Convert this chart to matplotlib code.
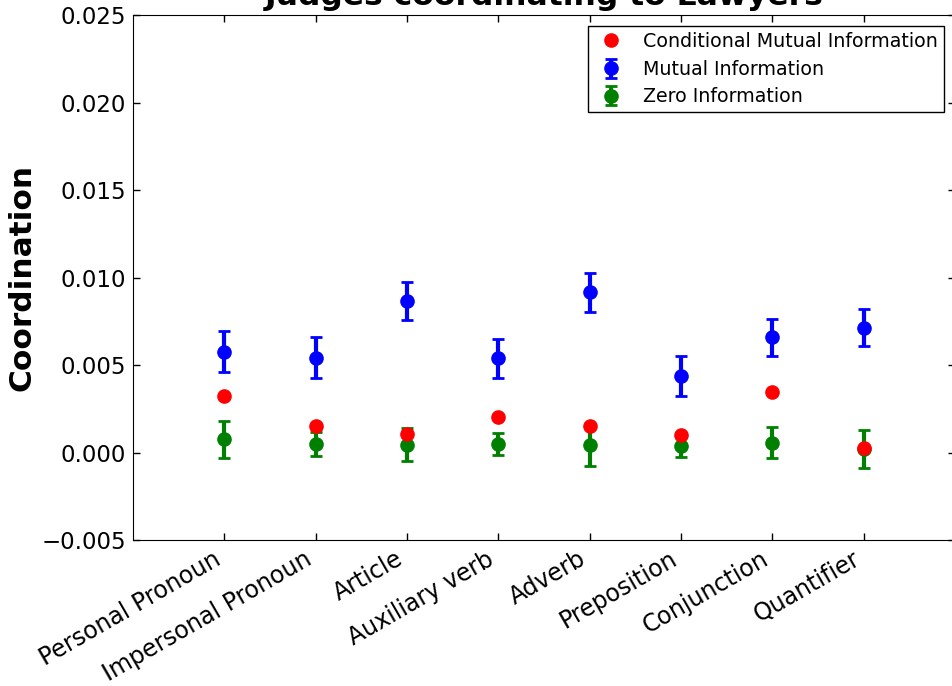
import numpy as np
import matplotlib
matplotlib.use('Agg')
import matplotlib.pyplot as plt

# 数据
categories = ['Personal Pronoun', 'Impersonal Pronoun', 'Article', 'Auxiliary verb',
              'Adverb', 'Preposition', 'Conjunction', 'Quantifier']
cmi = [0.00325, 0.00153, 0.00106, 0.00205, 0.00153, 0.00100, 0.00347, 0.00027]
mi = [0.00576, 0.00542, 0.00866, 0.00538, 0.00915, 0.00437, 0.00658, 0.00713]
mi_err = [0.00117, 0.00118, 0.00106, 0.00112, 0.00113, 0.00115, 0.00106, 0.00105]
zero = [0.00075, 0.00050, 0.00045, 0.00047, 0.00045, 0.00039, 0.00056, 0.00020]
zero_err = [0.00105, 0.00070, 0.00093, 0.00063, 0.00120, 0.00063, 0.00087, 0.00106]
yticks = [-0.005, 0.0, 0.005, 0.010, 0.015, 0.020, 0.025]

x = np.arange(1, len(categories) + 1)

fig = plt.figure(figsize=(9.53, 6.86), dpi=100)
ax = fig.add_axes([0.1396, 0.2128, 0.8626, 0.7653])

ax.plot(x, cmi, 'o', color='red', mec='red', ms=9.5, label='Conditional Mutual Information', zorder=3)
ax.errorbar(x, mi, yerr=mi_err, fmt='o', color='blue', mec='blue', ms=9.5,
            elinewidth=3, capsize=4, capthick=2, label='Mutual Information')
ax.errorbar(x, zero, yerr=zero_err, fmt='o', color='green', mec='green', ms=9.5,
            elinewidth=3, capsize=4, capthick=2, label='Zero Information')

ax.set_xlim(0, 9)
ax.set_ylim(-0.005, 0.025)
ax.set_xticks(x)
ax.set_xticklabels(categories, rotation=30, ha='right', fontsize=17)
ax.set_yticks(yticks)
ax.set_yticklabels([('%.3f' % v).replace('-', '\u2212') for v in yticks], fontsize=16.5)
ax.tick_params(direction='in', top=True, right=True, length=5, width=1, pad=5)

ax.set_ylabel('Coordination', fontsize=22.5, fontweight='bold')
ax.yaxis.set_label_coords(-0.118, 0.5)
ax.set_title('Judges coordinating to Lawyers', fontsize=22.6, fontweight='bold',
             y=1.02, va='baseline', pad=0)

leg = ax.legend(loc='upper right', numpoints=1, fontsize=13.7, fancybox=False,
                framealpha=1, edgecolor='black', borderaxespad=0.6, handletextpad=0.8,
                handlelength=1.8, borderpad=0.3, labelspacing=0.45)
leg.get_frame().set_linewidth(1)

fig.savefig('out.png', dpi=100, facecolor='white')
